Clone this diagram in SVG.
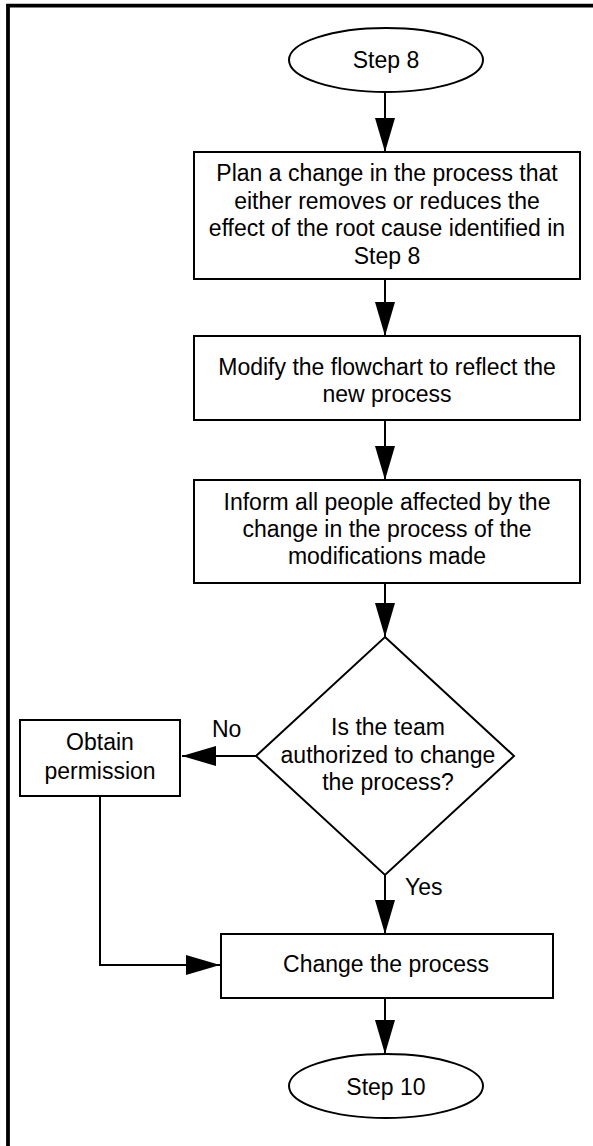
<svg xmlns="http://www.w3.org/2000/svg" width="593" height="1146" viewBox="0 0 593 1146">
<style>
.shape{fill:#fff;stroke:#000;stroke-width:2}
.conn{fill:none;stroke:#000;stroke-width:2}
text{font-family:"Liberation Sans",Arial,sans-serif;font-size:23px;fill:#000;text-anchor:middle}
.lbl{text-anchor:start}
</style>
<defs>
<marker id="arr" markerUnits="userSpaceOnUse" markerWidth="34" markerHeight="20" refX="34" refY="10" orient="auto" viewBox="0 0 34 20">
<path d="M0,0 L34,10 L0,20 z" fill="#000"/>
</marker>
</defs>
<rect width="593" height="1146" fill="#fff"/>
<path d="M8,1150 V5.7 H600" fill="none" stroke="#000" stroke-width="3.8"/>
<g id="connectors">
<line class="conn" x1="385" y1="92" x2="385" y2="152" marker-end="url(#arr)"/>
<line class="conn" x1="385" y1="279" x2="385" y2="336" marker-end="url(#arr)"/>
<line class="conn" x1="385" y1="420" x2="385" y2="480" marker-end="url(#arr)"/>
<line class="conn" x1="385" y1="583" x2="385" y2="637" marker-end="url(#arr)"/>
<line class="conn" x1="256" y1="756" x2="182" y2="756" marker-end="url(#arr)"/>
<polyline class="conn" points="100,796 100,966 100,965 220,965" marker-end="url(#arr)"/>
<line class="conn" x1="385" y1="875" x2="385" y2="934" marker-end="url(#arr)"/>
<line class="conn" x1="385" y1="998" x2="385" y2="1054" marker-end="url(#arr)"/>
<text class="lbl" x="212" y="737">No</text>
<text class="lbl" x="405" y="895">Yes</text>
</g>
<g id="step8">
<ellipse class="shape" cx="386" cy="60" rx="97" ry="32"/>
<text x="386" y="68">Step 8</text>
</g>
<g id="plan">
<rect class="shape" x="194" y="152" width="386" height="127"/>
<text x="387" y="181">Plan a change in the process that</text>
<text x="387" y="209">either removes or reduces the</text>
<text x="387" y="236">effect of the root cause identified in</text>
<text x="387" y="264">Step 8</text>
</g>
<g id="modify">
<rect class="shape" x="194" y="336" width="386" height="84"/>
<text x="387" y="375">Modify the flowchart to reflect the</text>
<text x="387" y="402">new process</text>
</g>
<g id="inform">
<rect class="shape" x="194" y="480" width="386" height="103"/>
<text x="387" y="510">Inform all people affected by the</text>
<text x="387" y="537">change in the process of the</text>
<text x="387" y="564">modifications made</text>
</g>
<g id="decision">
<polygon class="shape" points="385,637 514,756 385,875 256,756"/>
<text x="388" y="735">Is the team</text>
<text x="388" y="763">authorized to change</text>
<text x="388" y="790">the process?</text>
</g>
<g id="obtain">
<rect class="shape" x="20" y="720" width="160" height="76"/>
<text x="100" y="750">Obtain</text>
<text x="100" y="779">permission</text>
</g>
<g id="change">
<rect class="shape" x="221" y="934" width="332" height="64"/>
<text x="386" y="972">Change the process</text>
</g>
<g id="step10">
<ellipse class="shape" cx="386" cy="1086" rx="97" ry="32"/>
<text x="386" y="1095">Step 10</text>
</g>
</svg>
